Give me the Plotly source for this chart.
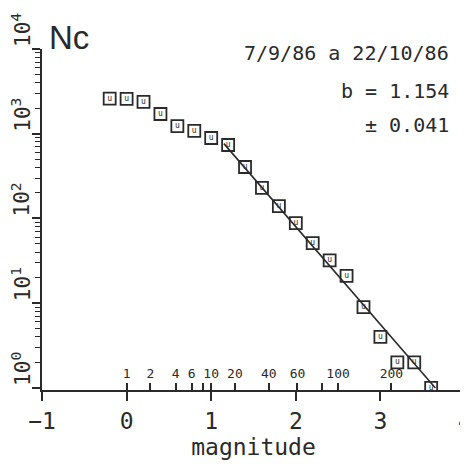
import plotly.graph_objects as go

# ---- data ----
magnitudes = [-0.2, 0.0, 0.2, 0.4, 0.6, 0.8, 1.0, 1.2, 1.4, 1.6,
              1.8, 2.0, 2.2, 2.4, 2.6, 2.8, 3.0, 3.2, 3.4, 3.6]
counts = [2600, 2580, 2370, 1710, 1230, 1080, 890, 736, 405, 229,
          140, 88, 51, 32, 21, 9, 4, 2, 2, 1]

b_value = 1.154
b_error = 0.041
a_value = 4.21
fit_range = [1.15, 3.65]

x_ticks = [-1, 0, 1, 2, 3, 4]
y_exponents = [0, 1, 2, 3, 4]

aux_positions = [0.0, 0.28, 0.58, 0.77, 0.90, 1.0, 1.28, 1.68, 2.02, 2.31, 2.50, 3.13]
aux_labels = ["1", "2", "4", "6", "", "10", "20", "40", "60", "", "100", "200"]

period_text = "7/9/86 a 22/10/86"

INK = "#2a2a2a"
MONO = "DejaVu Sans Mono"

fit_x = fit_range
fit_y = [10 ** (a_value - b_value * m) for m in fit_x]

fig = go.Figure()
fig.add_trace(go.Scatter(x=fit_x, y=fit_y, mode="lines",
                         line=dict(color=INK, width=1.6), hoverinfo="skip"))
fig.add_trace(go.Scatter(x=magnitudes, y=counts, mode="markers+text",
                         marker=dict(symbol="square-open", size=12,
                                     line=dict(color=INK, width=1.8), color=INK),
                         text=["u"] * len(magnitudes), textposition="middle center",
                         textfont=dict(size=8, color=INK, family=MONO)))
# auxiliary scale drawn on an overlaid axis
fig.add_trace(go.Scatter(x=[aux_positions[0]], y=[1], xaxis="x2", mode="markers",
                         marker=dict(opacity=0), hoverinfo="skip"))

fig.update_layout(
    width=468, height=468,
    margin=dict(l=34, r=11, t=41, b=86),
    paper_bgcolor="white", plot_bgcolor="white",
    showlegend=False,
    xaxis=dict(range=[-1, 4], tickvals=x_ticks,
               ticktext=["\u22121" if v < 0 else str(v) for v in x_ticks],
               showline=True, linecolor=INK, linewidth=2, mirror=False,
               ticks="outside", ticklen=9, tickwidth=2, tickcolor=INK,
               showgrid=False, zeroline=False, automargin=False,
               ticklabeloverflow="allow",
               tickfont=dict(family=MONO, size=23, color=INK),
               title=dict(text="magnitude", font=dict(family=MONO, size=23, color=INK),
                          standoff=6)),
    xaxis2=dict(range=[-1, 4], overlaying="x", anchor="free", position=0, side="top",
                tickvals=aux_positions, ticktext=aux_labels,
                ticks="outside", ticklen=7, tickwidth=1.6, tickcolor=INK,
                showline=False, showgrid=False, zeroline=False, automargin=False,
                tickfont=dict(family=MONO, size=13, color=INK)),
    yaxis=dict(type="log", range=[-0.025, 4.0],
               tickvals=[10 ** e for e in y_exponents], showticklabels=False,
               showline=True, linecolor=INK, linewidth=2,
               ticks="outside", ticklen=8, tickwidth=1.8, tickcolor=INK,
               minor=dict(ticks="outside", ticklen=5, tickwidth=1.3, tickcolor=INK,
                          dtick="D1", showgrid=False),
               showgrid=False, zeroline=False, automargin=False),
)

for e in y_exponents:
    fig.add_annotation(x=0, xref="paper", y=e, yref="y",
                       text=f"10<sup>{e}</sup>", textangle=-90,
                       xanchor="right", yanchor="bottom", xshift=-5,
                       showarrow=False, font=dict(family=MONO, size=21, color=INK))

fig.add_annotation(x=0, xref="paper", y=1, yref="paper", text="Nc",
                   xanchor="left", yanchor="bottom", xshift=5, yshift=-9,
                   showarrow=False, font=dict(family="Liberation Sans", size=33, color=INK))

for txt, yp in [(period_text, 0.988), (f"b = {b_value:.3f}", 0.877),
                (f"\u00b1 {b_error:.3f}", 0.777)]:
    fig.add_annotation(x=0.966, xref="paper", y=yp, yref="paper", text=txt,
                       xanchor="right", yanchor="middle", showarrow=False,
                       font=dict(family=MONO, size=20, color=INK))

fig.write_html("out.html")
